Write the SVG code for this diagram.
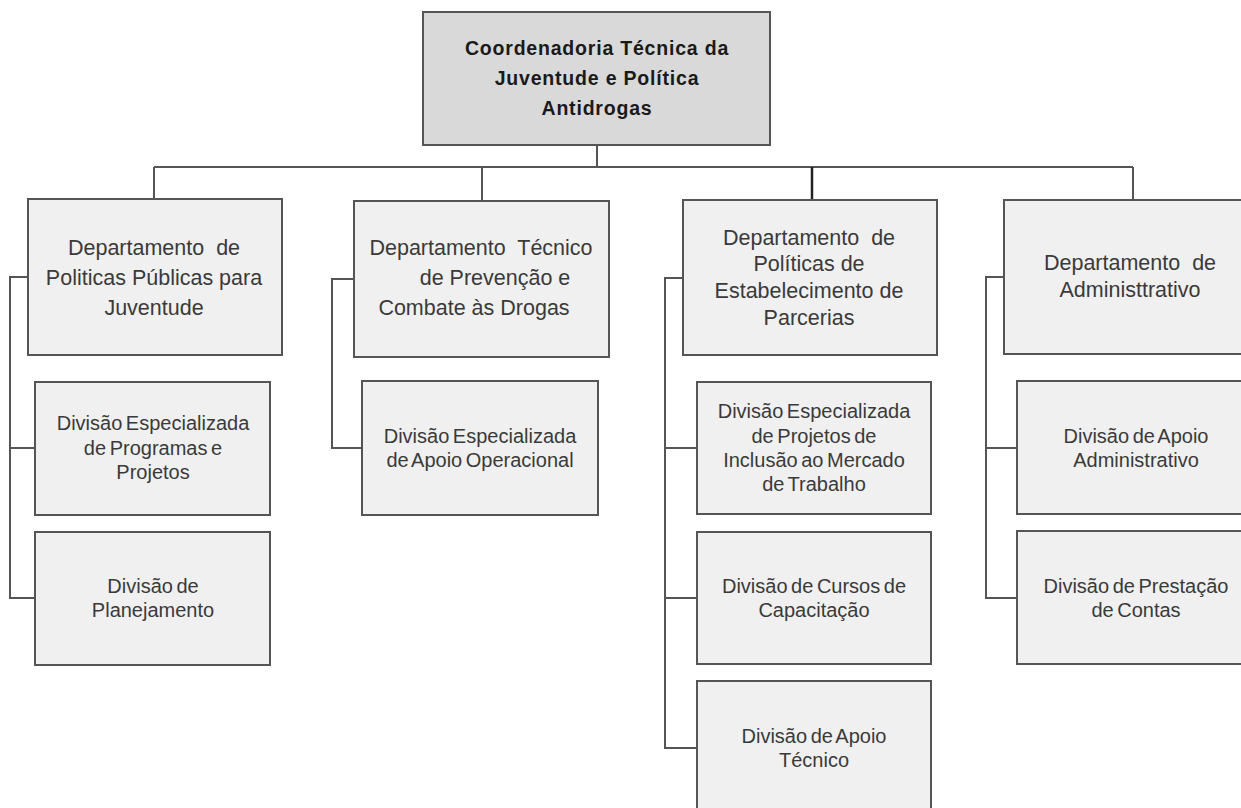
<svg xmlns="http://www.w3.org/2000/svg" width="1241" height="808" viewBox="0 0 1241 808">
<style>
.box{fill:#f0f0f0;stroke:#555;stroke-width:2}
.top{fill:#d9d9d9;stroke:#555;stroke-width:2}
.c{fill:none;stroke:#555;stroke-width:2}
.ct{fill:none;stroke:#222;stroke-width:2.5}
.tt{font-family:"Liberation Sans",Arial,sans-serif;font-weight:bold;font-size:19.5px;fill:#1a1a1a;text-anchor:middle;letter-spacing:0.8px}
.dt{font-family:"Liberation Sans",Arial,sans-serif;font-size:21.5px;fill:#3a3a3a;text-anchor:middle}
.vt{font-family:"Liberation Sans",Arial,sans-serif;font-size:20px;fill:#3a3a3a;text-anchor:middle;word-spacing:-2px}
</style>
<rect width="1241" height="808" fill="#ffffff"/>
<g id="connectors">
<path class="c" d="M597 145 V167 M154 167 H1133 M154 167 V199 M482 167 V201 M1133 167 V200"/>
<path class="ct" d="M812 167 V200"/>
<path class="c" d="M28 277 H10 V598 H35 M10 448 H35"/>
<path class="c" d="M354 279 H332 V448 H362"/>
<path class="c" d="M683 278 H665 V748 H697 M665 448 H697 M665 598 H697"/>
<path class="c" d="M1004 277 H986 V598 H1017 M986 448 H1017"/>
</g>
<g id="n-coord">
<rect class="top" x="423" y="12" width="347" height="133"/>
<text class="tt" x="597" y="55">Coordenadoria Técnica da</text>
<text class="tt" x="597" y="85">Juventude e Política</text>
<text class="tt" x="597" y="115">Antidrogas</text>
</g>
<g id="n-dep1">
<rect class="box" x="28" y="199" width="254" height="156"/>
<text class="dt" x="154" y="255" xml:space="preserve">Departamento  de</text>
<text class="dt" x="154" y="285">Politicas Públicas para</text>
<text class="dt" x="154" y="315">Juventude</text>
</g>
<g id="n-dep2">
<rect class="box" x="354" y="201" width="255" height="156"/>
<text class="dt" x="481" y="255" xml:space="preserve">Departamento  Técnico</text>
<text class="dt" x="495" y="285">de Prevenção e</text>
<text class="dt" x="474" y="315">Combate às Drogas</text>
</g>
<g id="n-dep3">
<rect class="box" x="683" y="200" width="254" height="155"/>
<text class="dt" x="809" y="245" xml:space="preserve">Departamento  de</text>
<text class="dt" x="809" y="271">Políticas de</text>
<text class="dt" x="809" y="298">Estabelecimento de</text>
<text class="dt" x="809" y="325">Parcerias</text>
</g>
<g id="n-dep4">
<rect class="box" x="1004" y="200" width="260" height="154"/>
<text class="dt" x="1130" y="270" xml:space="preserve">Departamento  de</text>
<text class="dt" x="1130" y="297">Administtrativo</text>
</g>
<g id="n-div-prog">
<rect class="box" x="35" y="382" width="235" height="133"/>
<text class="vt" x="153" y="430">Divisão Especializada</text>
<text class="vt" x="153" y="455">de Programas e</text>
<text class="vt" x="153" y="479">Projetos</text>
</g>
<g id="n-div-plan">
<rect class="box" x="35" y="532" width="235" height="133"/>
<text class="vt" x="153" y="593">Divisão de</text>
<text class="vt" x="153" y="617">Planejamento</text>
</g>
<g id="n-div-op">
<rect class="box" x="362" y="381" width="236" height="134"/>
<text class="vt" x="480" y="443">Divisão Especializada</text>
<text class="vt" x="480" y="467">de Apoio Operacional</text>
</g>
<g id="n-div-incl">
<rect class="box" x="697" y="382" width="234" height="132"/>
<text class="vt" x="814" y="418">Divisão Especializada</text>
<text class="vt" x="814" y="443">de Projetos de</text>
<text class="vt" x="814" y="467">Inclusão ao Mercado</text>
<text class="vt" x="814" y="491">de Trabalho</text>
</g>
<g id="n-div-cursos">
<rect class="box" x="697" y="532" width="234" height="132"/>
<text class="vt" x="814" y="593">Divisão de Cursos de</text>
<text class="vt" x="814" y="617">Capacitação</text>
</g>
<g id="n-div-tec">
<rect class="box" x="697" y="681" width="234" height="140"/>
<text class="vt" x="814" y="743">Divisão de Apoio</text>
<text class="vt" x="814" y="767">Técnico</text>
</g>
<g id="n-div-adm">
<rect class="box" x="1017" y="381" width="238" height="133"/>
<text class="vt" x="1136" y="443">Divisão de Apoio</text>
<text class="vt" x="1136" y="467">Administrativo</text>
</g>
<g id="n-div-contas">
<rect class="box" x="1017" y="531" width="238" height="133"/>
<text class="vt" x="1136" y="593">Divisão de Prestação</text>
<text class="vt" x="1136" y="617">de Contas</text>
</g>
</svg>
